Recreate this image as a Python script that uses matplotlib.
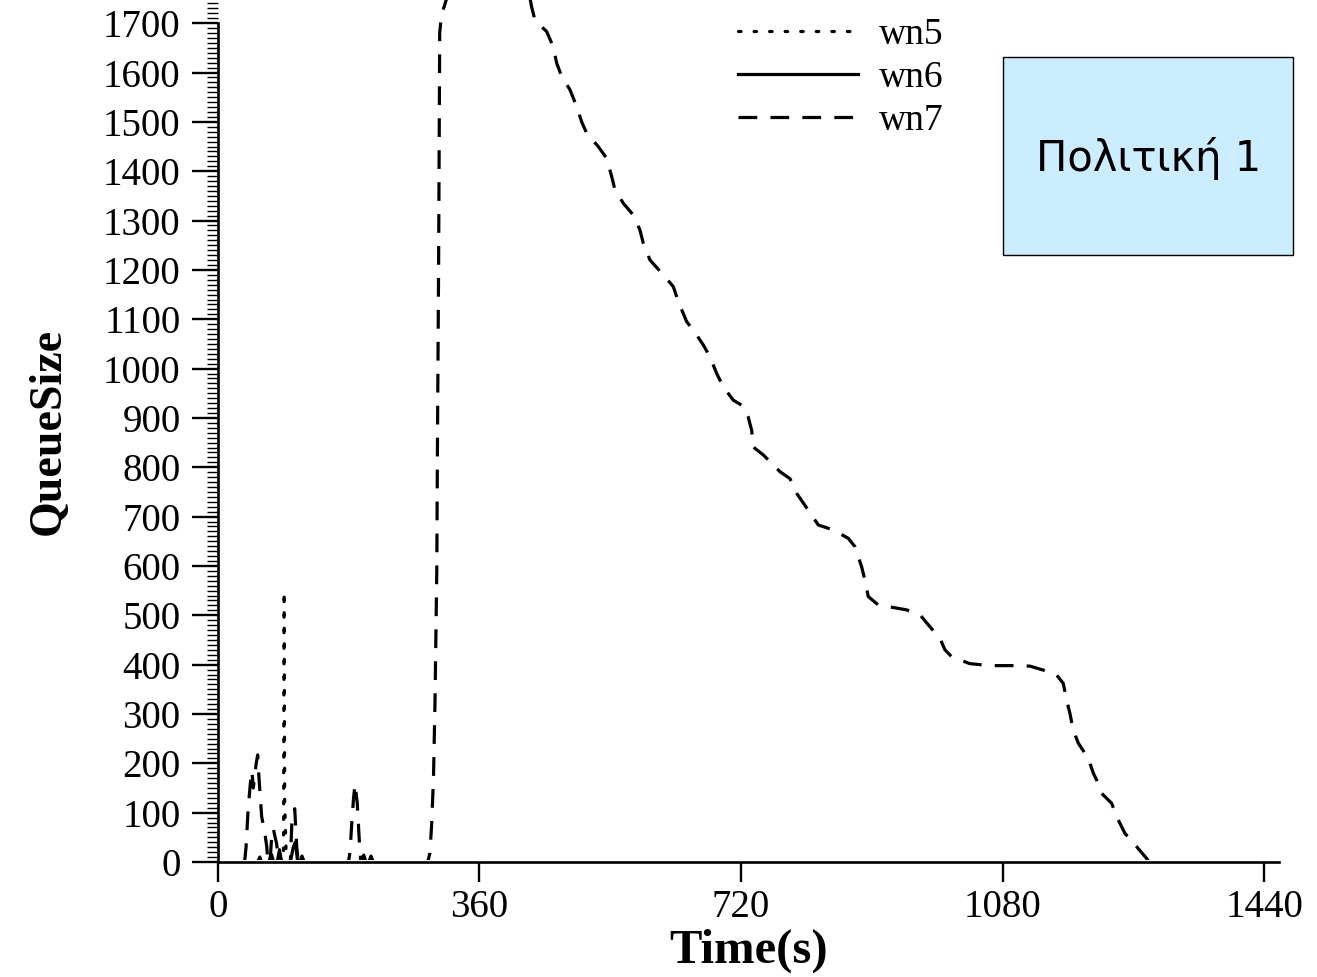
import matplotlib
matplotlib.use("Agg")
import matplotlib.pyplot as plt
from matplotlib.patches import Rectangle
from matplotlib.ticker import MultipleLocator

# ---- data -------------------------------------------------------------
wn5_t = [85, 90.6, 91.4, 92.2, 94.5, 100]
wn5_q = [0, 0, 548, 120, 0, 0]

wn6_t = [55, 58, 60, 70, 74, 77, 82, 85, 88, 100, 104, 107, 110, 113, 116, 119,
         198, 201, 204, 208, 211, 214]
wn6_q = [0, 10, 0, 0, 15, 0, 0, 25, 0, 0, 30, 40, 0, 0, 12, 0,
         0, 14, 0, 0, 12, 0]

wn7_t = [37, 39, 42, 45, 47, 49, 51, 53, 55, 57, 60.5, 65, 67.5, 69,
         72, 74, 76.5, 79, 81, 84,
         100, 102, 104, 106, 108.7, 111,
         180, 182, 185, 187, 189, 192, 195, 197,
         289, 292, 294.5, 297, 299, 301.5, 302.5, 304, 305.5, 308, 313, 318,
         370, 428,
         432, 436.6, 452.7, 461.8, 466.5, 473.4, 484.8, 494, 500.9, 507.8,
         523.7, 535.3, 542.2, 546.7, 558.2, 572, 581, 585.7, 594.9, 613.2,
         627, 633.8, 645.4, 654.5, 668.2, 677.4, 686.7, 695.8, 709.5, 722,
         730, 734.8, 737, 750.8, 773.8, 787.5, 796.8, 812.7, 826.5, 847.1,
         867.8, 877, 886.2, 890.7, 895.3, 909, 925, 948, 966.4, 980,
         994, 1000.8, 1010, 1035, 1062.7, 1094.8, 1117.8, 1136, 1154.5, 1163.6,
         1168.3, 1172.8, 1177.4, 1184.3, 1198, 1205, 1209.6, 1216.5, 1230.2, 1237,
         1248.5, 1264.6, 1278.4, 1282]
wn7_q = [0, 30, 110, 160, 185, 150, 175, 200, 217, 166, 92, 58, 31, 0,
         0, 45, 68, 50, 38, 0,
         0, 78, 100, 108, 31, 0,
         0, 20, 90, 130, 158, 120, 40, 0,
         0, 18, 78, 173, 322, 592, 870, 1206, 1680, 1717, 1740, 1765,
         1850, 1765,
         1733, 1706, 1683, 1652, 1619, 1592, 1565, 1531, 1500, 1477,
         1450, 1426, 1389, 1362, 1335, 1311, 1281, 1254, 1220, 1190,
         1166, 1136, 1095, 1078, 1048, 1024, 990, 963, 936, 925,
         902, 875, 841, 825, 791, 777, 747, 713, 683, 673,
         656, 639, 598, 571, 538, 521, 517, 511, 501, 477,
         453, 430, 416, 402, 398, 398, 397, 389, 379, 362,
         328, 301, 267, 241, 210, 180, 166, 139, 119, 92,
         58, 31, 7, 0]

x_ticks = [0, 360, 720, 1080, 1440]
y_ticks = list(range(0, 1701, 100))
box_label = "Πολιτική 1"

# ---- figure -----------------------------------------------------------
plt.rcParams["font.family"] = ["Liberation Serif", "DejaVu Serif"]
plt.rcParams["lines.scale_dashes"] = False

W, H = 1317, 977
fig = plt.figure(figsize=(W / 100, H / 100), dpi=100)
ax = fig.add_axes([217.7 / W, 115 / H, (1279 - 217.7) / W, 862 / H])
ax.set_xlim(0, 1460.5)
ax.set_ylim(0, 1747)

lw = 2.3
lines = [
    ax.plot(wn5_t, wn5_q, color="black", lw=lw, linestyle=(0, (1.8, 9.4)),
            dash_capstyle="round", label="wn5")[0],
    ax.plot(wn6_t, wn6_q, color="black", lw=lw, linestyle="-",
            label="wn6")[0],
    ax.plot(wn7_t, wn7_q, color="black", lw=lw, linestyle=(0, (13.5, 9.5)),
            dash_capstyle="butt", label="wn7")[0],
]
# keep the zero stretches of each series hidden under the time axis
clip = Rectangle((0, 0.0022), 1, 1.1, transform=ax.transAxes)
for ln in lines:
    ln.set_clip_path(clip)

for side in ("top", "right"):
    ax.spines[side].set_visible(False)
for side in ("left", "bottom"):
    ax.spines[side].set_linewidth(1.9)
    ax.spines[side].set_zorder(3)
ax.spines["left"].set_bounds(0, 1700)

ax.set_xticks(x_ticks)
ax.set_yticks(y_ticks)
ax.yaxis.set_minor_locator(MultipleLocator(10))
ax.tick_params(axis="y", which="major", direction="out", length=18.7,
               width=1.7, labelsize=28, pad=8)
ax.tick_params(axis="y", which="minor", direction="out", length=8,
               width=1.0)
ax.tick_params(axis="x", which="major", direction="out", length=14.4,
               width=1.7, labelsize=28, pad=5)

ax.set_xlabel("Time(s)", fontsize=35, fontweight="bold", labelpad=2)
ax.set_ylabel("QueueSize", fontsize=33, fontweight="bold", labelpad=24)

leg = ax.legend(loc="upper left", bbox_to_anchor=(738 / W, 1 - 18 / H),
                bbox_transform=fig.transFigure, frameon=False, fontsize=27,
                handlelength=3.2, handletextpad=0.55, labelspacing=0.22,
                borderpad=0, borderaxespad=0)

# caption box
bx0, by0, bx1, by1 = 1003.3, 56.7, 1293.3, 255.0
fig.patches.append(Rectangle((bx0 / W, 1 - by1 / H), (bx1 - bx0) / W,
                             (by1 - by0) / H, transform=fig.transFigure,
                             facecolor="#CCECFF", edgecolor="black",
                             linewidth=1.0))
fig.text((bx0 + bx1) / 2 / W, 1 - (by0 + by1 + 6) / 2 / H, box_label,
         family="DejaVu Sans", fontsize=30, ha="center", va="center")

fig.savefig("out.png", dpi=100)
